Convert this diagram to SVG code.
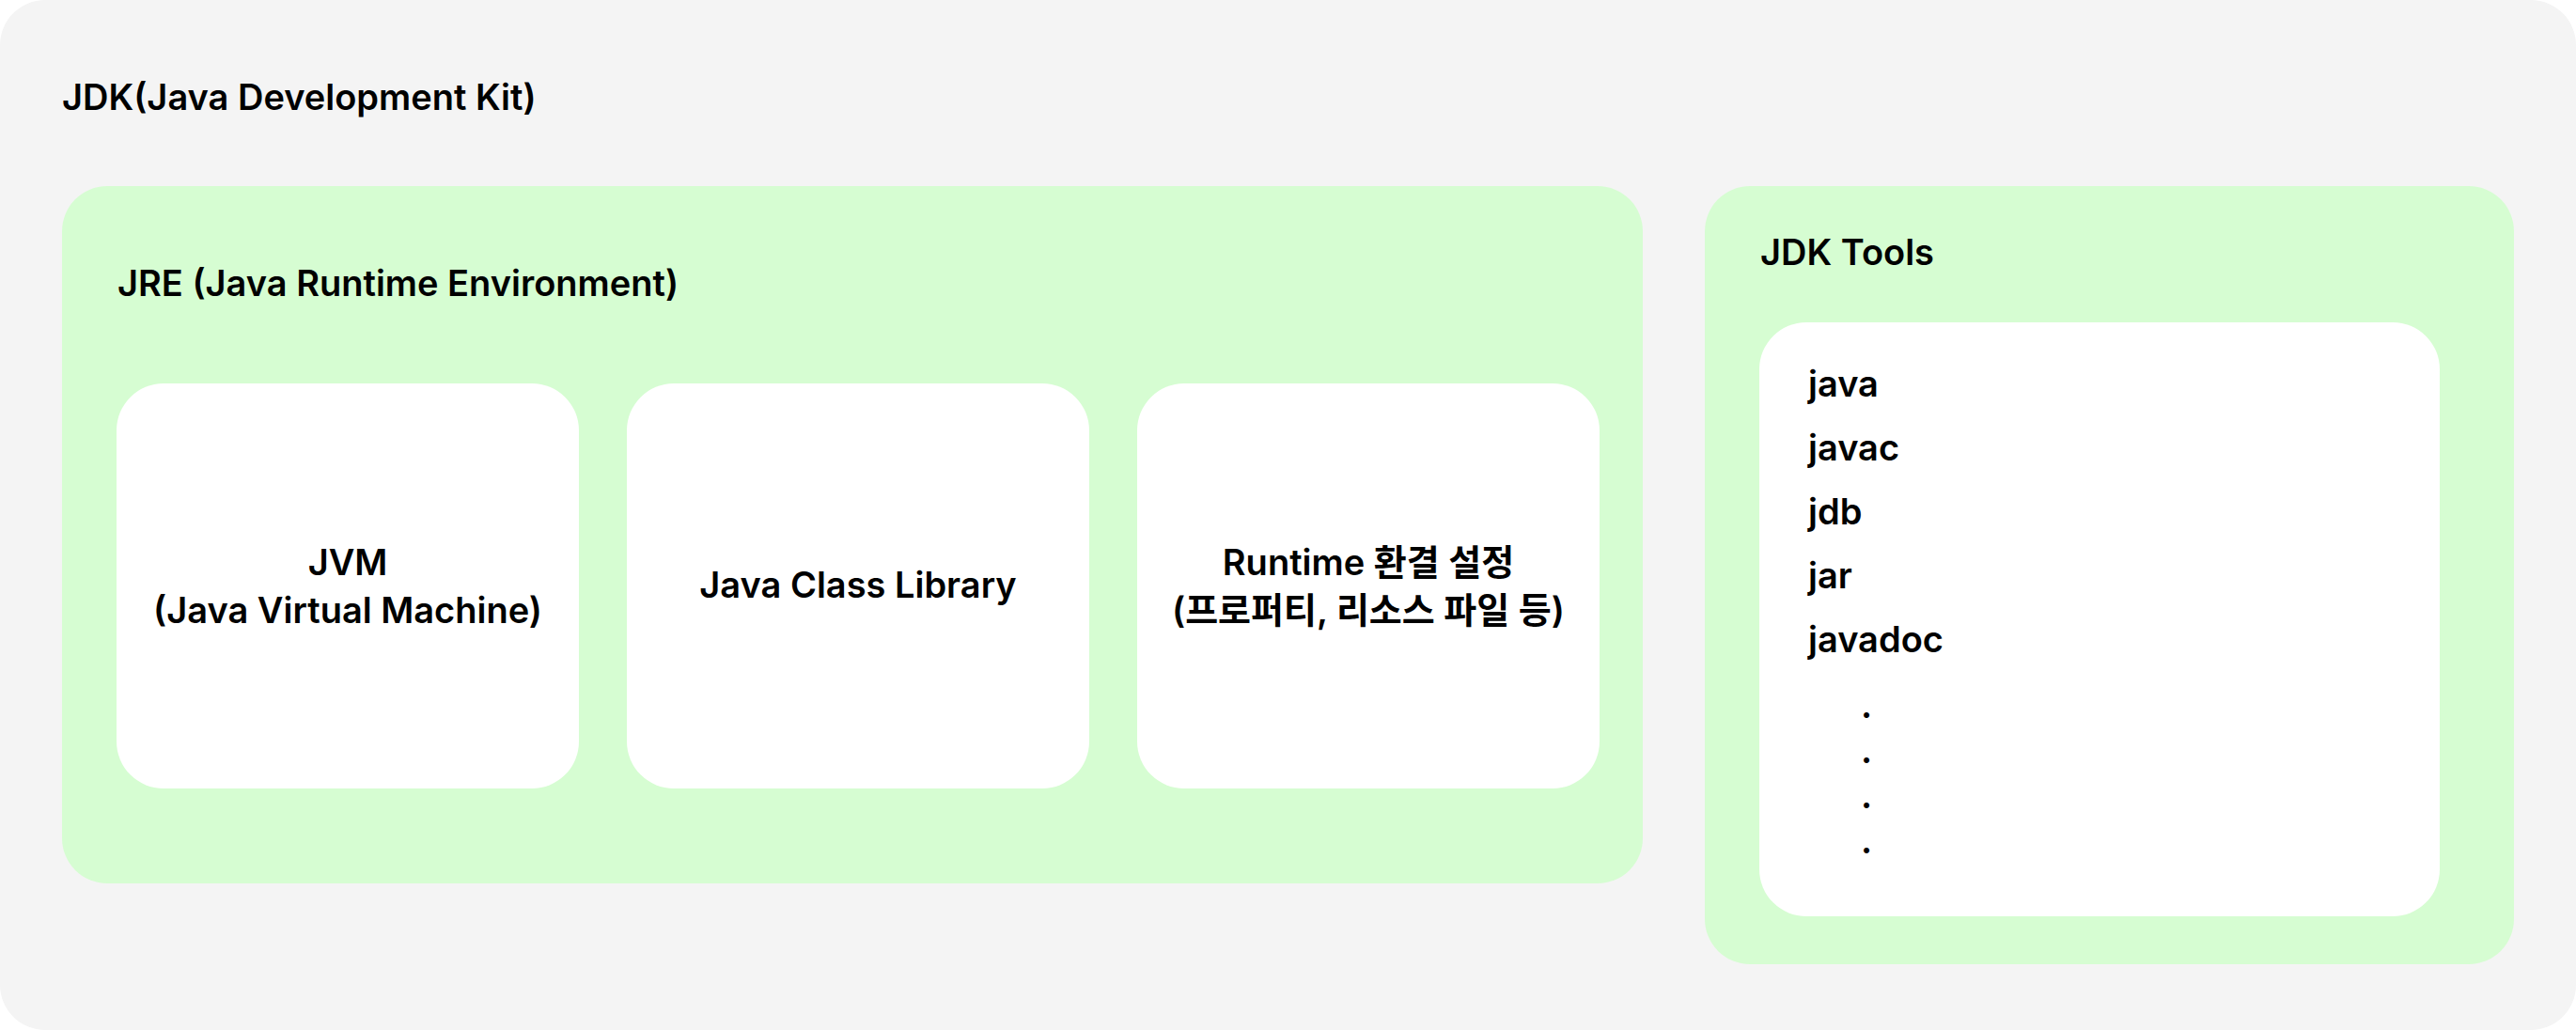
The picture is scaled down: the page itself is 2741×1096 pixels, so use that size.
<svg xmlns="http://www.w3.org/2000/svg" width="2741" height="1096" viewBox="0 0 2741 1096">
<style>
.t{font-family:Inter,"Noto Sans CJK KR","Noto Sans",sans-serif;font-weight:600;fill:#000}
.title{font-size:38px}
.node{font-size:38px;text-anchor:middle}
.item{font-size:38px}
.green{fill:#d6fdd2}
.white{fill:#ffffff}
</style>
<g id="jdk">
<rect x="0" y="0" width="2741" height="1096" rx="48" fill="#f4f4f4"/>
<text class="t title" x="66" y="117">JDK(Java Development Kit)</text>
</g>
<g id="jre">
<rect class="green" x="66" y="198" width="1682" height="742" rx="48"/>
<text class="t title" x="125" y="315">JRE (Java Runtime Environment)</text>
</g>
<g id="jvm">
<rect class="white" x="124" y="408" width="492" height="431" rx="50"/>
<text class="t node" x="370" y="612">JVM</text>
<text class="t node" x="370" y="663">(Java Virtual Machine)</text>
</g>
<g id="jcl">
<rect class="white" x="667" y="408" width="492" height="431" rx="50"/>
<text class="t node" x="913" y="636">Java Class Library</text>
</g>
<g id="runtime">
<rect class="white" x="1210" y="408" width="492" height="431" rx="50"/>
<text class="t node" x="1456" y="612">Runtime 환결 설정</text>
<text class="t node" x="1456" y="663">(프로퍼티, 리소스 파일 등)</text>
</g>
<g id="jdk-tools">
<rect class="green" x="1814" y="198" width="861" height="828" rx="48"/>
<text class="t title" x="1873" y="282">JDK Tools</text>
</g>
<g id="tool-list">
<rect class="white" x="1872" y="343" width="724" height="632" rx="50"/>
<text class="t item" x="1924" y="422">java</text>
<text class="t item" x="1924" y="490">javac</text>
<text class="t item" x="1924" y="558">jdb</text>
<text class="t item" x="1924" y="626">jar</text>
<text class="t item" x="1924" y="694">javadoc</text>
<text class="t item" x="1980" y="764">.</text>
<text class="t item" x="1980" y="812">.</text>
<text class="t item" x="1980" y="860">.</text>
<text class="t item" x="1980" y="908">.</text>
</g>
<g id="connectors"></g>
</svg>
